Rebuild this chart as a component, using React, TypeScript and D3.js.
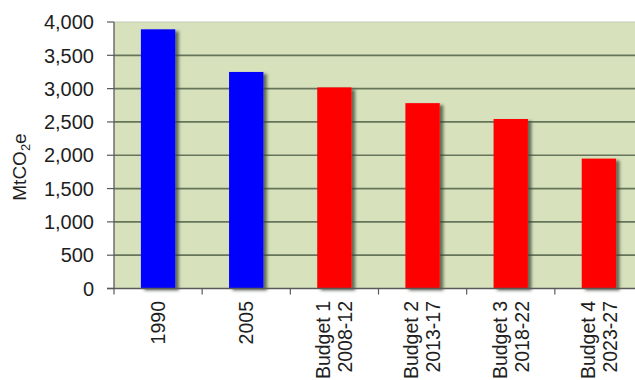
import React from "react";
import * as d3 from "d3";

// Emissions by period (MtCO2e)
const categories: string[][] = [
  ["1990"],
  ["2005"],
  ["Budget 1", "2008-12"],
  ["Budget 2", "2013-17"],
  ["Budget 3", "2018-22"],
  ["Budget 4", "2023-27"],
];
const values: number[] = [3890, 3250, 3018, 2782, 2544, 1950];
const barColors: string[] = ["#0000ff", "#0000ff", "#ff0000", "#ff0000", "#ff0000", "#ff0000"];
const yTicks: number[] = [0, 500, 1000, 1500, 2000, 2500, 3000, 3500, 4000];

const W = 635;
const H = 380;
const left = 114;
const right = 643;
const top = 22;
const bottom = 288.5;

export default function App() {
  const keys = categories.map((c) => c.join(" "));
  const x = d3
    .scaleBand<string>()
    .domain(keys)
    .range([left, right])
    .paddingInner(0.61)
    .paddingOuter(0.305);
  const y = d3.scaleLinear().domain([0, 4000]).range([bottom, top]);
  const fmt = d3.format(",");
  const step = x.step();
  const font = "'Liberation Sans', Arial, sans-serif";
  const capH = 13.6;
  const lineH = 22;

  return (
    <svg
      width={W}
      height={H}
      style={{ position: "absolute", left: 0, top: 0, background: "#fff" }}
      fontFamily={font}
    >
      <defs>
        <filter id="barShadow" x="-20%" y="-5%" width="160%" height="115%">
          <feDropShadow dx="3.5" dy="2" stdDeviation="1.5" floodColor="#3a4530" floodOpacity="0.75" />
        </filter>
        <filter id="soft" x="-5%" y="-50%" width="110%" height="200%">
          <feGaussianBlur stdDeviation="0.4" />
        </filter>
      </defs>

      {/* plot background */}
      <rect x={left} y={top} width={right - left} height={bottom - top} fill="#d7e2bd" />
      <line x1={left} x2={right} y1={top} y2={top} stroke="#c3cab8" strokeWidth={1.2} />

      {/* horizontal gridlines */}
      <g filter="url(#soft)">
        {yTicks
          .filter((t) => t > 0 && t < 4000)
          .map((t) => (
            <line key={t} x1={left} x2={right} y1={y(t)} y2={y(t)} stroke="#66745a" strokeWidth={1.7} />
          ))}
      </g>

      {/* bars */}
      <g filter="url(#barShadow)">
        {values.map((v, i) => (
          <rect
            key={keys[i]}
            x={x(keys[i])}
            y={y(v)}
            width={x.bandwidth()}
            height={bottom - y(v)}
            fill={barColors[i]}
          />
        ))}
      </g>

      {/* y axis */}
      <line x1={left} x2={left} y1={top} y2={bottom} stroke="#5a5a5a" strokeWidth={1.3} />
      {yTicks.map((t) => (
        <g key={t}>
          <line x1={left - 7} x2={left} y1={y(t)} y2={y(t)} stroke="#5a5a5a" strokeWidth={1.2} />
          <text x={94} y={y(t)} dy="0.36em" textAnchor="end" fontSize={20} fill="#1e1e1e">
            {fmt(t)}
          </text>
        </g>
      ))}

      {/* x axis */}
      <line x1={left - 7} x2={right} y1={bottom} y2={bottom} stroke="#5a5a5a" strokeWidth={1.4} />
      {keys.map((k, i) => (
        <line
          key={"t" + k}
          x1={left + step * (i + 1)}
          x2={left + step * (i + 1)}
          y1={bottom}
          y2={bottom + 6}
          stroke="#5a5a5a"
          strokeWidth={1.2}
        />
      ))}
      <line x1={left} x2={left} y1={bottom} y2={bottom + 6} stroke="#5a5a5a" strokeWidth={1.2} />

      {/* category labels */}
      {categories.map((lines, i) => {
        const cx = (x(keys[i]) as number) + x.bandwidth() / 2;
        const block = capH + (lines.length - 1) * lineH;
        const first = -block / 2 + capH;
        return (
          <text
            key={"l" + keys[i]}
            transform={`translate(${cx},301) rotate(-90)`}
            textAnchor="end"
            fontSize={19.5}
            fill="#1e1e1e"
          >
            {lines.map((ln, j) => (
              <tspan key={j} x={0} y={first + j * lineH}>
                {ln}
              </tspan>
            ))}
          </text>
        );
      })}

      {/* y axis title */}
      <text transform="translate(26,167) rotate(-90)" textAnchor="middle" fontSize={19} fill="#1e1e1e">
        MtCO<tspan fontSize={13} dy={4}>2</tspan>
        <tspan dy={-4}>e</tspan>
      </text>
    </svg>
  );
}
